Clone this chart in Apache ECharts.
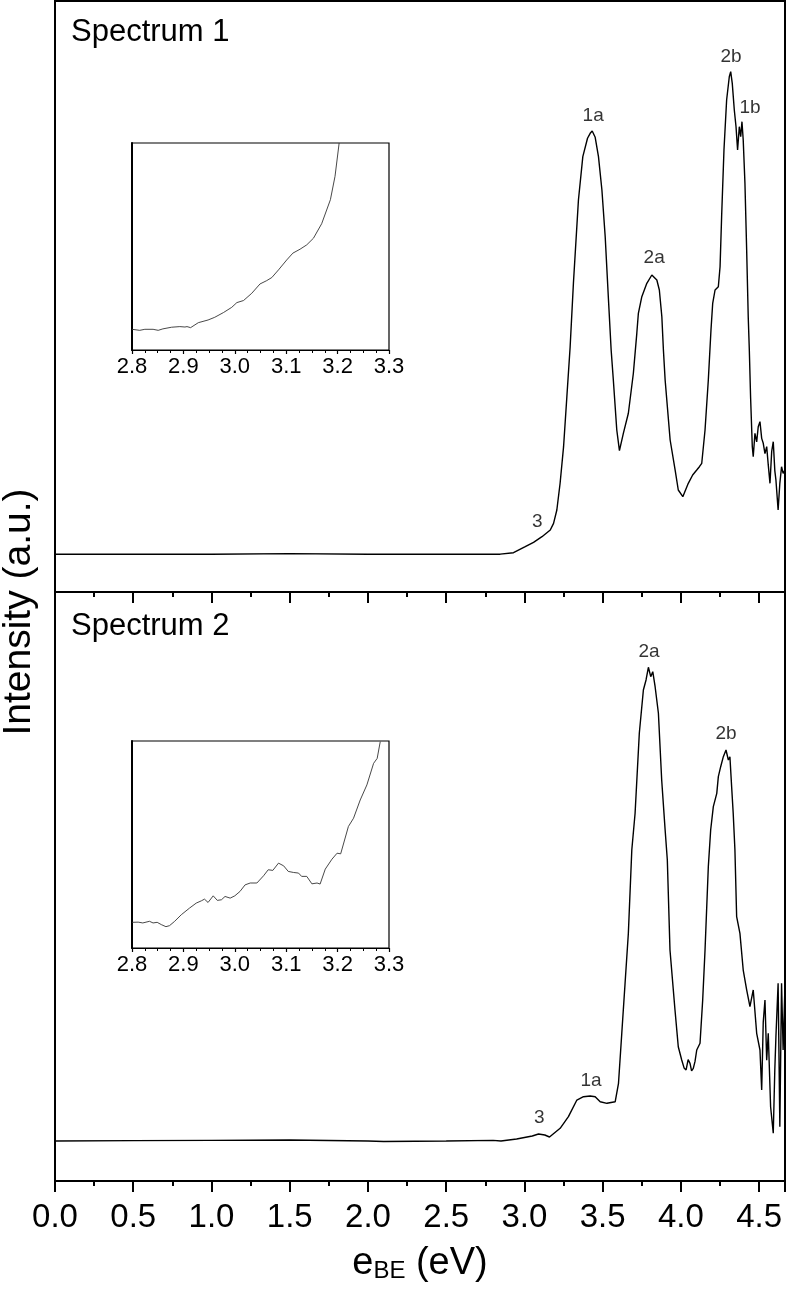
<!DOCTYPE html>
<html>
<head>
<meta charset="utf-8">
<script src="https://cdn.jsdelivr.net/npm/echarts@6/dist/echarts.min.js"></script>
<style>
html,body{margin:0;padding:0;background:#fff;}
#c{width:786px;height:1290px;}
</style>
</head>
<body>
<div id="c"></div>
<script>
// ---------- data ----------
var xTicks = ['0.0','0.5','1.0','1.5','2.0','2.5','3.0','3.5','4.0','4.5'];
var insetTicks = ['2.8','2.9','3.0','3.1','3.2','3.3'];

// Spectrum 1 (top panel), intensity in arbitrary units (0-100 of panel height)
var spec1X = [0.0,0.5,1.0,1.5,2.0,2.5,2.8,2.845,2.93,3.005,3.058,3.112,3.165,3.186,3.207,3.228,3.25,3.271,3.292,3.313,3.345,3.373,3.403,3.42,3.433,3.452,3.473,3.495,3.516,3.537,3.554,3.568,3.59,3.607,3.632,3.664,3.696,3.718,3.728,3.75,3.782,3.814,3.824,3.846,3.862,3.878,3.888,3.899,3.931,3.963,3.983,4.012,4.047,4.075,4.101,4.118,4.133,4.154,4.175,4.192,4.203,4.218,4.239,4.25,4.26,4.275,4.292,4.309,4.318,4.328,4.341,4.352,4.362,4.373,4.382,4.39,4.398,4.409,4.42,4.43,4.437,4.445,4.456,4.462,4.473,4.484,4.494,4.505,4.516,4.526,4.537,4.548,4.558,4.569,4.58,4.59,4.6,4.607,4.621,4.632,4.643,4.653,4.664];
var spec1Y = [6.4,6.4,6.4,6.5,6.4,6.4,6.4,6.4,6.65,7.66,8.41,9.36,10.49,11.62,13.87,18.44,24.59,33.05,41.51,52.28,66.33,73.66,76.77,77.61,78.0,76.94,73.66,68.02,60.12,49.41,40.95,35.87,27.41,23.91,26.85,30.24,37.01,43.77,47.16,49.97,52.23,53.64,53.93,52.79,51.1,46.58,40.95,35.87,25.72,20.64,17.26,16.12,18.39,19.8,20.64,21.2,21.78,27.41,35.87,44.33,48.85,51.1,51.66,55.04,63.5,74.79,83.25,87.19,88.04,86.07,81.56,78.73,74.79,78.73,77.04,79.58,76.48,69.15,57.87,46.58,40.95,33.05,24.59,22.89,26.85,25.4,27.97,28.82,26.0,25.16,23.4,24.59,21.5,18.39,23.8,25.43,20.5,18.95,13.87,18.39,21.2,20.08,20.64];

// Spectrum 2 (bottom panel)
var spec2X = [0.0,0.5,1.0,1.5,2.0,2.1,2.5,2.8,2.85,2.95,3.05,3.09,3.13,3.16,3.165,3.228,3.281,3.335,3.377,3.42,3.452,3.484,3.527,3.58,3.601,3.622,3.643,3.664,3.686,3.707,3.734,3.76,3.777,3.792,3.807,3.82,3.835,3.856,3.877,3.899,3.913,3.93,3.962,3.983,4.005,4.02,4.033,4.046,4.058,4.068,4.079,4.09,4.101,4.122,4.139,4.154,4.175,4.19,4.207,4.229,4.239,4.254,4.271,4.288,4.303,4.313,4.324,4.334,4.345,4.356,4.377,4.398,4.42,4.441,4.462,4.484,4.505,4.516,4.526,4.537,4.548,4.558,4.573,4.59,4.6,4.607,4.621,4.632,4.643,4.653,4.664];
var spec2Y = [6.8,6.85,6.9,6.95,6.8,6.7,6.8,6.9,6.8,7.13,7.64,7.98,7.81,7.47,7.64,8.95,10.92,13.75,14.31,14.43,14.31,13.46,13.19,13.46,16.59,25.08,33.57,42.05,56.2,62.43,76.01,83.36,85.06,87.22,85.62,86.47,83.92,79.41,68.08,59.59,54.5,39.22,29.03,22.8,20.54,19.2,18.85,20.6,19.98,18.7,19.13,20.3,22.24,23.38,30.73,39.22,53.36,59.59,63.55,65.82,68.65,70.34,72.04,73.17,71.48,72.04,66.94,62.43,56.2,44.87,42.05,35.82,32.43,29.59,32.43,25.08,22.24,15.45,27.0,30.73,20.5,25.08,12.61,8.1,19.0,24.5,33.57,9.22,33.57,22.24,32.43];

// Inset 1 (zoom of spectrum 1, arbitrary units 0-100 of inset height)
var inset1X = [2.8,2.815,2.825,2.841,2.851,2.86,2.877,2.893,2.903,2.907,2.914,2.929,2.948,2.961,2.978,2.994,3.004,3.017,3.033,3.049,3.062,3.072,3.085,3.101,3.113,3.127,3.14,3.153,3.169,3.186,3.195,3.203];
var inset1Y = [10.0,9.5,10.0,10.0,9.5,10.2,11.0,11.3,11.1,11.3,10.8,13.2,14.5,15.8,18.1,20.6,22.9,23.9,27.4,31.9,33.5,35.0,38.7,43.5,46.8,48.7,50.8,54.0,61.0,72.6,83.9,100];

// Inset 2 (zoom of spectrum 2)
var inset2X = [2.8,2.812,2.821,2.834,2.841,2.849,2.857,2.866,2.873,2.883,2.896,2.912,2.925,2.935,2.941,2.948,2.958,2.966,2.974,2.981,2.991,3.0,3.01,3.02,3.03,3.043,3.056,3.065,3.074,3.085,3.095,3.104,3.114,3.124,3.13,3.14,3.15,3.16,3.166,3.176,3.189,3.199,3.206,3.221,3.231,3.244,3.257,3.27,3.277,3.283];
var inset2Y = [12.4,12.5,12.1,12.9,12.1,12.4,11.3,10.3,10.8,12.9,16.1,19.3,21.7,22.8,23.6,22.0,25.2,23.0,23.3,24.9,24.1,25.2,27.3,30.5,31.4,31.4,34.9,37.8,37.5,41.0,39.7,37.0,36.5,36.2,34.6,34.6,31.0,31.4,30.9,38.1,42.9,45.8,45.5,58.7,62.7,71.5,78.8,89.2,91.6,99.7];

// Peak labels
var peak1Names = ['3','1a','2a','2b','1b'];
var peak1X = [3.082,3.439,3.829,4.320,4.441];
var peak1Y = [11.8,80.5,56.5,90.5,81.9];
var peak2Names = ['3','1a','2a','2b'];
var peak2X = [3.094,3.426,3.796,4.288];
var peak2Y = [10.7,17.1,89.8,75.9];

var panelTitles = ['Spectrum 1','Spectrum 2'];

// ---------- build ----------
function zip(a,b){ return a.map(function(v,i){ return [v,b[i]]; }); }
function zip3(a,b,n){ return a.map(function(v,i){ return [v,b[i],n[i]]; }); }

var FONT = 'Liberation Sans, Arial, sans-serif';
var XMAX = 4.665;

function mainX(gi, showLabels){
  return {
    gridIndex: gi, type: 'value', min: 0, max: XMAX, interval: 0.5,
    axisLine: {show: true, onZero: false, lineStyle: {color: '#000', width: 2}},
    axisTick: {show: true, inside: false, length: 11, lineStyle: {color: '#000', width: 2}},
    minorTick: {show: true, splitNumber: 2, length: 5, lineStyle: {color: '#000', width: 2}},
    splitLine: {show: false},
    axisLabel: {show: showLabels, fontFamily: FONT, fontSize: 33, color: '#000', margin: 20,
      formatter: function(v){ var i = Math.round(v/0.5); return (Math.abs(v - i*0.5) < 1e-6 && xTicks[i]) ? xTicks[i] : ''; },
      showMaxLabel: false}
  };
}
function insetX(gi){
  return {
    gridIndex: gi, type: 'value', min: 2.8, max: 3.3, interval: 0.1,
    axisLine: {show: true, onZero: false, lineStyle: {color: '#000', width: 1.2}},
    axisTick: {show: true, length: 4, lineStyle: {color: '#000', width: 1.2}},
    minorTick: {show: true, splitNumber: 4, length: 3, lineStyle: {color: '#000', width: 1}},
    splitLine: {show: false},
    axisLabel: {show: true, fontFamily: FONT, fontSize: 22, color: '#000', margin: 6,
      formatter: function(v){ var i = Math.round((v-2.8)/0.1); return insetTicks[i] || ''; }}
  };
}
function hiddenY(gi, min, max){
  return {gridIndex: gi, type: 'value', min: min, max: max,
    axisLine: {show: true, lineStyle: {color: '#000', width: 2}}, axisTick: {show: false},
    axisLabel: {show: false}, splitLine: {show: false}};
}

var option = {
  backgroundColor: '#fff',
  animation: false,
  title: [
    {text: panelTitles[0], left: 66, top: 12, textStyle: {fontFamily: FONT, fontSize: 31, fontWeight: 'normal', color: '#000'}},
    {text: panelTitles[1], left: 66, top: 606, textStyle: {fontFamily: FONT, fontSize: 31, fontWeight: 'normal', color: '#000'}}
  ],
  grid: [
    {left: 55, right: 1, top: 1, height: 591, show: true, borderColor: '#000', borderWidth: 2, backgroundColor: 'transparent'},
    {left: 55, right: 1, top: 592, height: 589, show: true, borderColor: '#000', borderWidth: 2, backgroundColor: 'transparent'},
    {left: 132, top: 143, width: 257, height: 207, show: true, borderColor: '#000', borderWidth: 1.2, backgroundColor: '#fff'},
    {left: 132, top: 741, width: 257, height: 207, show: true, borderColor: '#000', borderWidth: 1.2, backgroundColor: '#fff'}
  ],
  xAxis: [
    mainX(0, false),
    Object.assign(mainX(1, true), {name: '{e|e}{s|BE}{e| (eV)}', nameLocation: 'middle', nameGap: 58,
      nameTextStyle: {rich: {
        e: {fontFamily: FONT, fontSize: 38, color: '#000', verticalAlign: 'bottom', lineHeight: 44},
        s: {fontFamily: FONT, fontSize: 24, color: '#000', verticalAlign: 'bottom', lineHeight: 30}
      }}}),
    insetX(2),
    insetX(3)
  ],
  yAxis: [
    hiddenY(0, 0, 100),
    hiddenY(1, 0, 100),
    hiddenY(2, 0, 100),
    hiddenY(3, 0, 100)
  ],
  graphic: [
    {type: 'text', x: 19, y: 612, rotation: Math.PI/2, z: 10,
      style: {text: 'Intensity (a.u.)', fontFamily: FONT, fontSize: 39, fill: '#000', textAlign: 'center', textVerticalAlign: 'middle'}}
  ],
  series: [
    {type: 'line', xAxisIndex: 0, yAxisIndex: 0, data: zip(spec1X, spec1Y), showSymbol: false, symbol: 'none',
      lineStyle: {color: '#000', width: 1.4}, z: 3},
    {type: 'line', xAxisIndex: 1, yAxisIndex: 1, data: zip(spec2X, spec2Y), showSymbol: false, symbol: 'none',
      lineStyle: {color: '#000', width: 1.4}, z: 3},
    {type: 'line', xAxisIndex: 2, yAxisIndex: 2, data: zip(inset1X, inset1Y), showSymbol: false, symbol: 'none',
      lineStyle: {color: '#333', width: 0.9}, z: 5},
    {type: 'line', xAxisIndex: 3, yAxisIndex: 3, data: zip(inset2X, inset2Y), showSymbol: false, symbol: 'none',
      lineStyle: {color: '#333', width: 0.9}, z: 5},
    {type: 'scatter', xAxisIndex: 0, yAxisIndex: 0, symbolSize: 0, data: zip3(peak1X, peak1Y, peak1Names),
      label: {show: true, position: 'inside', formatter: function(p){ return p.data[2]; }, fontFamily: FONT, fontSize: 19, color: '#000'}},
    {type: 'scatter', xAxisIndex: 1, yAxisIndex: 1, symbolSize: 0, data: zip3(peak2X, peak2Y, peak2Names),
      label: {show: true, position: 'inside', formatter: function(p){ return p.data[2]; }, fontFamily: FONT, fontSize: 19, color: '#000'}}
  ]
};

var chart = echarts.init(document.getElementById('c'), null, {renderer: 'canvas'});
chart.setOption(option);
</script>
</body>
</html>
